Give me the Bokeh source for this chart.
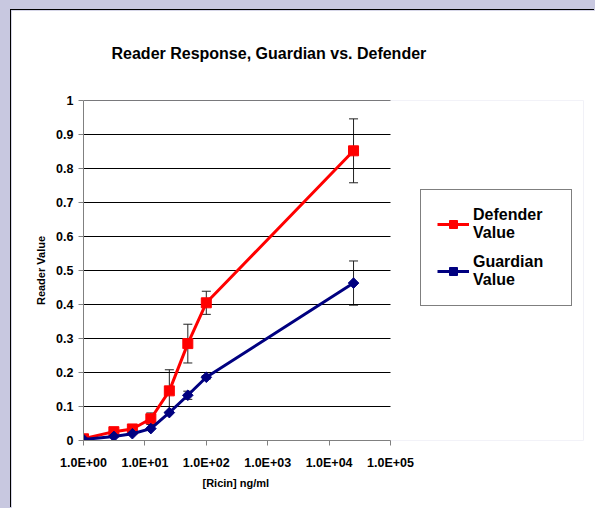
import numpy as np
from bokeh.plotting import figure
from bokeh.models import (Range1d, FixedTicker, ColumnDataSource, Whisker, TeeHead,
                          Legend, LegendItem, Title)
from bokeh.embed import file_html
from bokeh.resources import INLINE

# ---- data ----
concentration = [1, 3.125, 6.25, 12.5, 25, 50, 100, 25000]
defender_value = [0.005, 0.026, 0.034, 0.064, 0.146, 0.285, 0.405, 0.852]
defender_err = [0.0, 0.0, 0.0, 0.017, 0.062, 0.057, 0.034, 0.094]
guardian_value = [0.003, 0.012, 0.020, 0.035, 0.082, 0.133, 0.186, 0.463]
guardian_err = [0.0, 0.0, 0.0, 0.0, 0.0, 0.012, 0.005, 0.065]

x_ticks = [1, 10, 100, 1000, 10000, 100000]
x_tick_labels = ["1.0E+00", "1.0E+01", "1.0E+02", "1.0E+03", "1.0E+04", "1.0E+05"]
y_ticks = [0.0, 0.1, 0.2, 0.3, 0.4, 0.5, 0.6, 0.7, 0.8, 0.9, 1.0]
y_tick_labels = ["0", "0.1", "0.2", "0.3", "0.4", "0.5", "0.6", "0.7", "0.8", "0.9", "1"]

title_text = "Reader Response, Guardian vs. Defender"
x_label = "[Ricin] ng/ml"
y_label = "Reader Value"
series_names = ["Defender\nValue", "Guardian\nValue"]

FONT = "Liberation Sans"
RED = "#FF0000"
NAVY = "#000080"
LAVENDER = "#C8C8E0"

# layout: the frame spans the axis (307 px) plus the legend area to its right
AXIS_PX = 307
FRAME_PX = 500
x_lo, x_hi = x_ticks[0], x_ticks[-1]
x_end = x_lo * (x_hi / x_lo) ** (FRAME_PX / AXIS_PX)

p = figure(width=584, height=498, x_axis_type="log",
           x_range=Range1d(x_lo, x_end), y_range=Range1d(0, 1),
           output_backend="svg", toolbar_location=None,
           min_border_left=72, min_border_right=584 - 72 - FRAME_PX,
           min_border_top=90, min_border_bottom=68)
p.background_fill_color = "white"
p.border_fill_color = "white"
p.outline_line_color = None
p.styles = {"margin-left": "11px", "margin-top": "10px",
            "box-shadow": "-1px -1px 0 0 #000000"}

# grid: horizontal lines only, limited to the axis extent
p.xgrid.visible = False
p.ygrid.visible = False
grid_y = [t for t in y_ticks if t > 0]
p.segment(x0=[x_lo] * len(grid_y), x1=[x_hi] * len(grid_y), y0=grid_y, y1=grid_y,
          line_color="black", line_width=1)

# axes
for ax in (p.xaxis[0], p.yaxis[0]):
    ax.axis_line_color = "#808080"
    ax.major_tick_line_color = "#808080"
    ax.major_tick_out = 5
    ax.major_tick_in = 0
    ax.minor_tick_line_color = None
    ax.major_label_text_font = FONT
    ax.major_label_text_font_style = "bold"
    ax.major_label_text_font_size = "12.5px"
    ax.major_label_text_color = "black"
    ax.axis_label_text_font = FONT
    ax.axis_label_text_font_style = "bold"
    ax.axis_label_text_font_size = "11px"
    ax.axis_label_text_color = "black"

p.xaxis.ticker = FixedTicker(ticks=x_ticks)
p.xaxis.bounds = (x_lo, x_hi)
p.xaxis.major_label_overrides = dict(zip(x_ticks, x_tick_labels))
p.xaxis.major_label_standoff = 10

p.yaxis.ticker = FixedTicker(ticks=y_ticks)
p.yaxis.major_label_overrides = dict(zip(y_ticks, y_tick_labels))
p.yaxis.major_label_standoff = 5
p.yaxis.axis_label = y_label
p.yaxis.axis_label_standoff = 6

# x-axis title, centred under the axis extent (not the wider frame)
p.add_layout(Title(text=x_label, align="left", offset=119, standoff=4,
                   text_font=FONT, text_font_style="bold", text_font_size="11px",
                   text_color="black"), "below")

# error bars
def err_source(vals, errs):
    xs, lo, hi = [], [], []
    for x, v, e in zip(concentration, vals, errs):
        if e > 0:
            xs.append(x); lo.append(v - e); hi.append(v + e)
    return ColumnDataSource(dict(base=xs, lower=lo, upper=hi))

for vals, errs in ((defender_value, defender_err), (guardian_value, guardian_err)):
    w = Whisker(source=err_source(vals, errs), base="base", lower="lower", upper="upper",
                dimension="height", line_color="#222222", line_width=1,
                upper_head=TeeHead(size=9, line_color="#222222", line_width=1),
                lower_head=TeeHead(size=9, line_color="#222222", line_width=1))
    p.add_layout(w)

# series
d_line = p.line(concentration, defender_value, line_color=RED, line_width=3)
d_mark = p.scatter(concentration, defender_value, marker="square", size=10,
                   fill_color=RED, line_color=RED)
g_line = p.line(concentration, guardian_value, line_color=NAVY, line_width=3)
g_mark = p.scatter(concentration, guardian_value, marker="square", angle=np.pi / 4,
                   size=7.5, fill_color=NAVY, line_color=NAVY)

legend = Legend(items=[LegendItem(label=series_names[0], renderers=[d_line, d_mark]),
                       LegendItem(label=series_names[1], renderers=[g_line, g_mark])],
                location=(337, 134), orientation="vertical",
                border_line_color="black", border_line_width=1,
                background_fill_color="white", background_fill_alpha=1,
                label_text_font=FONT, label_text_font_style="bold",
                label_text_font_size="16px", label_text_color="black",
                glyph_width=32, glyph_height=20, label_standoff=4,
                padding=16, spacing=11, label_width=82, margin=0)
p.add_layout(legend, "center")

# title (spacer title closest to frame, then the main title)
p.add_layout(Title(text=" ", text_font_size="20px"), "above")
p.add_layout(Title(text=title_text, align="left", offset=28,
                   text_font=FONT, text_font_style="bold", text_font_size="16px",
                   text_color="black"), "above")

html = file_html(p, INLINE)
html = html.replace("<head>", "<head><style>html, body {margin: 0; background-color: "
                    + LAVENDER + ";}</style>", 1)
open("out.html", "w").write(html)
